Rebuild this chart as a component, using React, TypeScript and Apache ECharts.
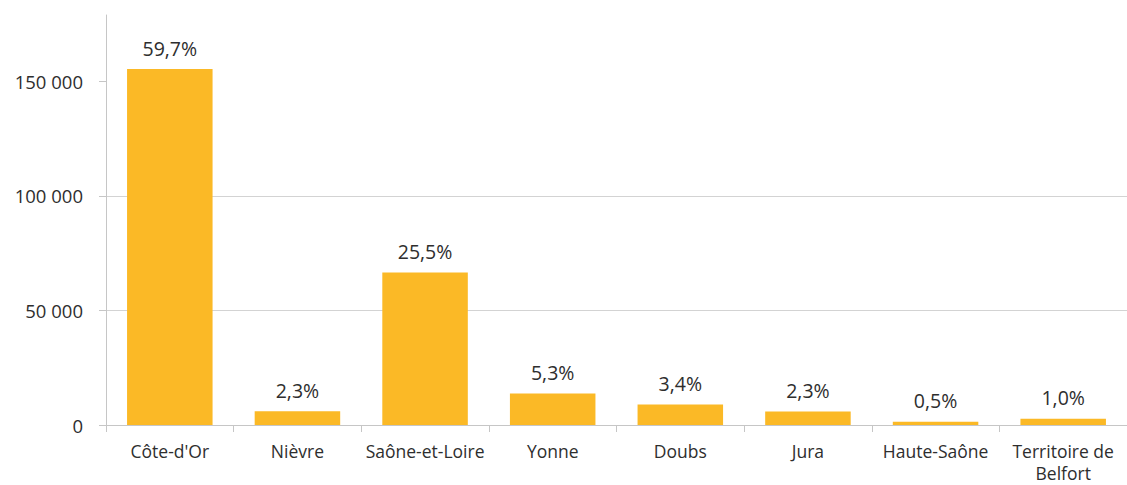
import React, { useEffect, useRef } from "react";
import * as echarts from "echarts";

const categories = [
  "Côte-d'Or",
  "Nièvre",
  "Saône-et-Loire",
  "Yonne",
  "Doubs",
  "Jura",
  "Haute-Saône",
  "Territoire de\nBelfort",
];
const values = [155400, 6000, 66600, 13800, 8900, 5900, 1400, 2700];
const percentLabels = ["59,7%", "2,3%", "25,5%", "5,3%", "3,4%", "2,3%", "0,5%", "1,0%"];
const yTicks = [0, 50000, 100000, 150000];

const FONT = "'Open Sans', sans-serif";
const TEXT = "#2e2e2e";

export default function App() {
  const ref = useRef<HTMLDivElement>(null);
  useEffect(() => {
    if (!ref.current) return;
    const chart = echarts.init(ref.current, null, { renderer: "svg" });
    chart.setOption({
      animation: false,
      backgroundColor: "#ffffff",
      grid: {
        left: 106,
        right: 0,
        top: 15,
        bottom: 60,
        containLabel: false,
        outerBoundsMode: "none",
      },
      xAxis: {
        type: "category",
        data: categories,
        axisLine: { show: true, lineStyle: { color: "#c6c6c6", width: 1 } },
        axisTick: { show: true, length: 7, lineStyle: { color: "#c6c6c6" } },
        axisLabel: {
          color: TEXT,
          fontFamily: FONT,
          fontSize: 17.5,
          margin: 15,
          lineHeight: 22,
          interval: 0,
        },
      },
      yAxis: {
        type: "value",
        min: 0,
        max: 179000,
        interval: 50000,
        axisLine: { show: true, lineStyle: { color: "#c6c6c6", width: 1 } },
        axisTick: {
          show: true,
          length: 7,
          customValues: yTicks,
          lineStyle: { color: "#c6c6c6" },
        },
        axisLabel: {
          color: TEXT,
          fontFamily: FONT,
          fontSize: 18.5,
          margin: 23,
          customValues: yTicks,
          formatter: (v: number) =>
            String(Math.round(v)).replace(/\B(?=(\d{3})+(?!\d))/g, " "),
        },
        splitLine: {
          show: true,
          showMaxLine: false,
          lineStyle: { color: "#d3d3d3", width: 1 },
        },
      },
      series: [
        {
          type: "bar",
          data: values,
          barCategoryGap: "33%",
          itemStyle: { color: "#FBB926" },
          label: {
            show: true,
            position: "top",
            distance: 11,
            color: TEXT,
            fontFamily: FONT,
            fontSize: 19.5,
            formatter: (p: any) => percentLabels[p.dataIndex],
          },
        },
      ],
    });
    return () => chart.dispose();
  }, []);
  return (
    <div
      ref={ref}
      style={{ position: "absolute", left: 0, top: 0, width: 1127, height: 485 }}
    />
  );
}
